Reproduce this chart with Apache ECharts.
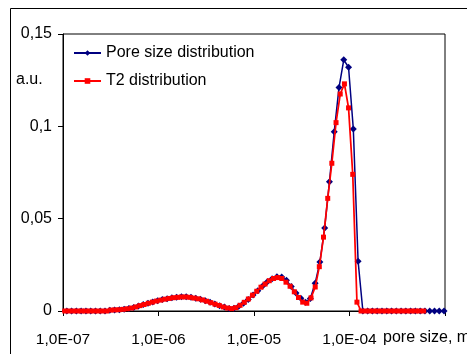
<!DOCTYPE html>
<html>
<head>
<meta charset="utf-8">
<script src="https://cdn.jsdelivr.net/npm/echarts@6/dist/echarts.min.js"></script>
<style>
  html, body { margin: 0; padding: 0; background: #fff; }
  #chart { width: 467px; height: 354px; }
</style>
</head>
<body>
<div id="chart"></div>
<script>
// Pore size distribution: log10 of pore size (m) for every sample, and its amplitude (a.u.)
const poreExp = [
  -7.01, -6.96, -6.91, -6.86, -6.81, -6.76, -6.71, -6.66, -6.61, -6.56,
  -6.51, -6.46, -6.41, -6.36, -6.31, -6.26, -6.21, -6.16, -6.11, -6.06,
  -6.01, -5.96, -5.91, -5.86, -5.81, -5.76, -5.71, -5.66, -5.61, -5.56,
  -5.51, -5.46, -5.41, -5.36, -5.31, -5.26, -5.21, -5.16, -5.11, -5.06,
  -5.01, -4.96, -4.91, -4.86, -4.81, -4.76, -4.71, -4.66, -4.61, -4.56,
  -4.51, -4.46, -4.41, -4.36, -4.31, -4.26, -4.21, -4.16, -4.11, -4.06,
  -4.01, -3.96, -3.91, -3.86, -3.81, -3.76, -3.71, -3.66, -3.61, -3.56,
  -3.51, -3.46, -3.41, -3.36, -3.31, -3.26, -3.21, -3.16, -3.11, -3.06,
  -3.01
];
const poreVal = [
  0, 0, 0, 0, 0, 0, 0, 0, 0, 0,
  0.0004, 0.0006, 0.0007, 0.0009, 0.0013, 0.0019, 0.0027, 0.0035, 0.0042, 0.0049,
  0.0056, 0.0062, 0.0067, 0.0072, 0.0075, 0.0077, 0.0077, 0.0074, 0.0069, 0.0063,
  0.0056, 0.0047, 0.0038, 0.0029, 0.0021, 0.0014, 0.0015, 0.0026, 0.0042, 0.0062,
  0.0086, 0.0110, 0.0135, 0.0158, 0.0175, 0.0186, 0.0184, 0.0166, 0.0132, 0.0098,
  0.0069, 0.0048, 0.0068, 0.0150, 0.0265, 0.0450, 0.0700, 0.0970, 0.1210, 0.1360,
  0.1320, 0.0986, 0.0270, 0, 0, 0, 0, 0, 0, 0,
  0, 0, 0, 0, 0, 0, 0, 0, 0, 0,
  0
];

// T2 distribution converted to pore size: log10 of pore size (m) and amplitude (a.u.)
const t2Exp = [
  -7.025, -6.981, -6.938, -6.894, -6.850, -6.807, -6.763, -6.719, -6.675, -6.632,
  -6.588, -6.544, -6.501, -6.457, -6.413, -6.370, -6.326, -6.282, -6.238, -6.195,
  -6.151, -6.107, -6.064, -6.020, -5.976, -5.933, -5.889, -5.845, -5.801, -5.758,
  -5.714, -5.670, -5.627, -5.583, -5.539, -5.496, -5.452, -5.408, -5.364, -5.321,
  -5.277, -5.233, -5.190, -5.146, -5.102, -5.059, -5.015, -4.971, -4.927, -4.884,
  -4.840, -4.796, -4.753, -4.709, -4.665, -4.622, -4.578, -4.534, -4.490, -4.447,
  -4.403, -4.359, -4.316, -4.272, -4.228, -4.185, -4.141, -4.097, -4.053, -4.010,
  -3.966, -3.922, -3.879, -3.835, -3.791, -3.748, -3.704, -3.660, -3.616, -3.573,
  -3.529, -3.485, -3.442, -3.398, -3.354, -3.311, -3.267, -3.223
];
const t2Val = [
  0, 0, 0, 0, 0, 0, 0, 0, 0, 0,
  0, 0, 0.0005, 0.0006, 0.0007, 0.0009, 0.0012, 0.0016, 0.0022, 0.0029,
  0.0035, 0.0042, 0.0048, 0.0054, 0.0059, 0.0064, 0.0068, 0.0072, 0.0074, 0.0076,
  0.0076, 0.0074, 0.0070, 0.0066, 0.0060, 0.0053, 0.0045, 0.0037, 0.0030, 0.0022,
  0.0016, 0.0013, 0.0018, 0.0031, 0.0047, 0.0065, 0.0086, 0.0107, 0.0129, 0.0146,
  0.0164, 0.0176, 0.0181, 0.0176, 0.0156, 0.0134, 0.0104, 0.0073, 0.0048, 0.0042,
  0.0071, 0.0130, 0.0240, 0.0400, 0.0610, 0.0800, 0.1020, 0.1175, 0.1230, 0.1100,
  0.0740, 0.0048, 0, 0, 0, 0, 0, 0, 0, 0,
  0, 0, 0, 0, 0, 0, 0, 0
];

const seriesNames = ['Pore size distribution', 'T2 distribution'];
const xRange = [1e-7, 1e-3];
// Decade labels along the pore-size axis; the last one gives way to the axis title
const xTickLabels = ['1,0E-07', '1,0E-06', '1,0E-05', '1,0E-04', ''];
const yTicks = [0, 0.05, 0.1, 0.15];

const FONT = '"Liberation Sans", Arial, sans-serif';
const toPairs = (exps, vals) => exps.map((e, i) => [Math.pow(10, e), vals[i]]);

const chart = echarts.init(document.getElementById('chart'), null, { renderer: 'canvas' });

chart.setOption({
  animation: false,
  backgroundColor: '#ffffff',
  textStyle: { fontFamily: FONT, color: '#000' },
  grid: {
    left: 63, right: 22, top: 34, bottom: 43,
    show: true, borderColor: '#000', borderWidth: 1, backgroundColor: '#fff'
  },
  legend: {
    orient: 'vertical',
    left: 68, top: 40,
    itemWidth: 27, itemHeight: 7, itemGap: 12,
    textStyle: { fontFamily: FONT, fontSize: 16, color: '#000' },
    data: seriesNames
  },
  xAxis: {
    type: 'log', logBase: 10,
    min: xRange[0], max: xRange[1],
    axisLine: { show: true, lineStyle: { color: '#000', width: 1 } },
    axisTick: { show: true, inside: false, length: 5, lineStyle: { color: '#000' } },
    minorTick: { show: false },
    splitLine: { show: false },
    axisLabel: {
      margin: 21, fontFamily: FONT, fontSize: 15.5, color: '#000',
      formatter: v => {
        const k = Math.round(Math.log10(v / xRange[0]));
        return xTickLabels[k] !== undefined ? xTickLabels[k] : '';
      }
    }
  },
  yAxis: {
    type: 'value',
    min: yTicks[0], max: yTicks[yTicks.length - 1], interval: 0.05,
    axisLine: { show: true, lineStyle: { color: '#000', width: 1 } },
    axisTick: { show: true, inside: false, length: 5, lineStyle: { color: '#000' } },
    splitLine: { show: false },
    axisLabel: {
      margin: 11, fontFamily: FONT, fontSize: 16, color: '#000',
      formatter: v => String(+v.toFixed(2)).replace('.', ',')
    }
  },
  graphic: [
    {
      type: 'rect',
      shape: { x: 10.5, y: 8.5, width: 520, height: 400 },
      style: { fill: null, stroke: '#000', lineWidth: 1 },
      silent: true
    },
    {
      type: 'text', left: 16, top: 72,
      style: { text: 'a.u.', fontFamily: FONT, fontSize: 16, fill: '#000' }
    },
    {
      type: 'text', left: 383, top: 330,
      style: { text: 'pore size, m', fontFamily: FONT, fontSize: 16, fill: '#000' }
    }
  ],
  series: [
    {
      name: seriesNames[0],
      type: 'line',
      data: toPairs(poreExp, poreVal),
      symbol: 'diamond', symbolSize: 7,
      lineStyle: { color: '#000080', width: 1.5 },
      itemStyle: { color: '#000080' },
      z: 2
    },
    {
      name: seriesNames[1],
      type: 'line',
      data: toPairs(t2Exp, t2Val),
      symbol: 'rect', symbolSize: 5,
      lineStyle: { color: '#ff0000', width: 1.75 },
      itemStyle: { color: '#ff0000' },
      z: 3
    }
  ]
});
</script>
</body>
</html>
